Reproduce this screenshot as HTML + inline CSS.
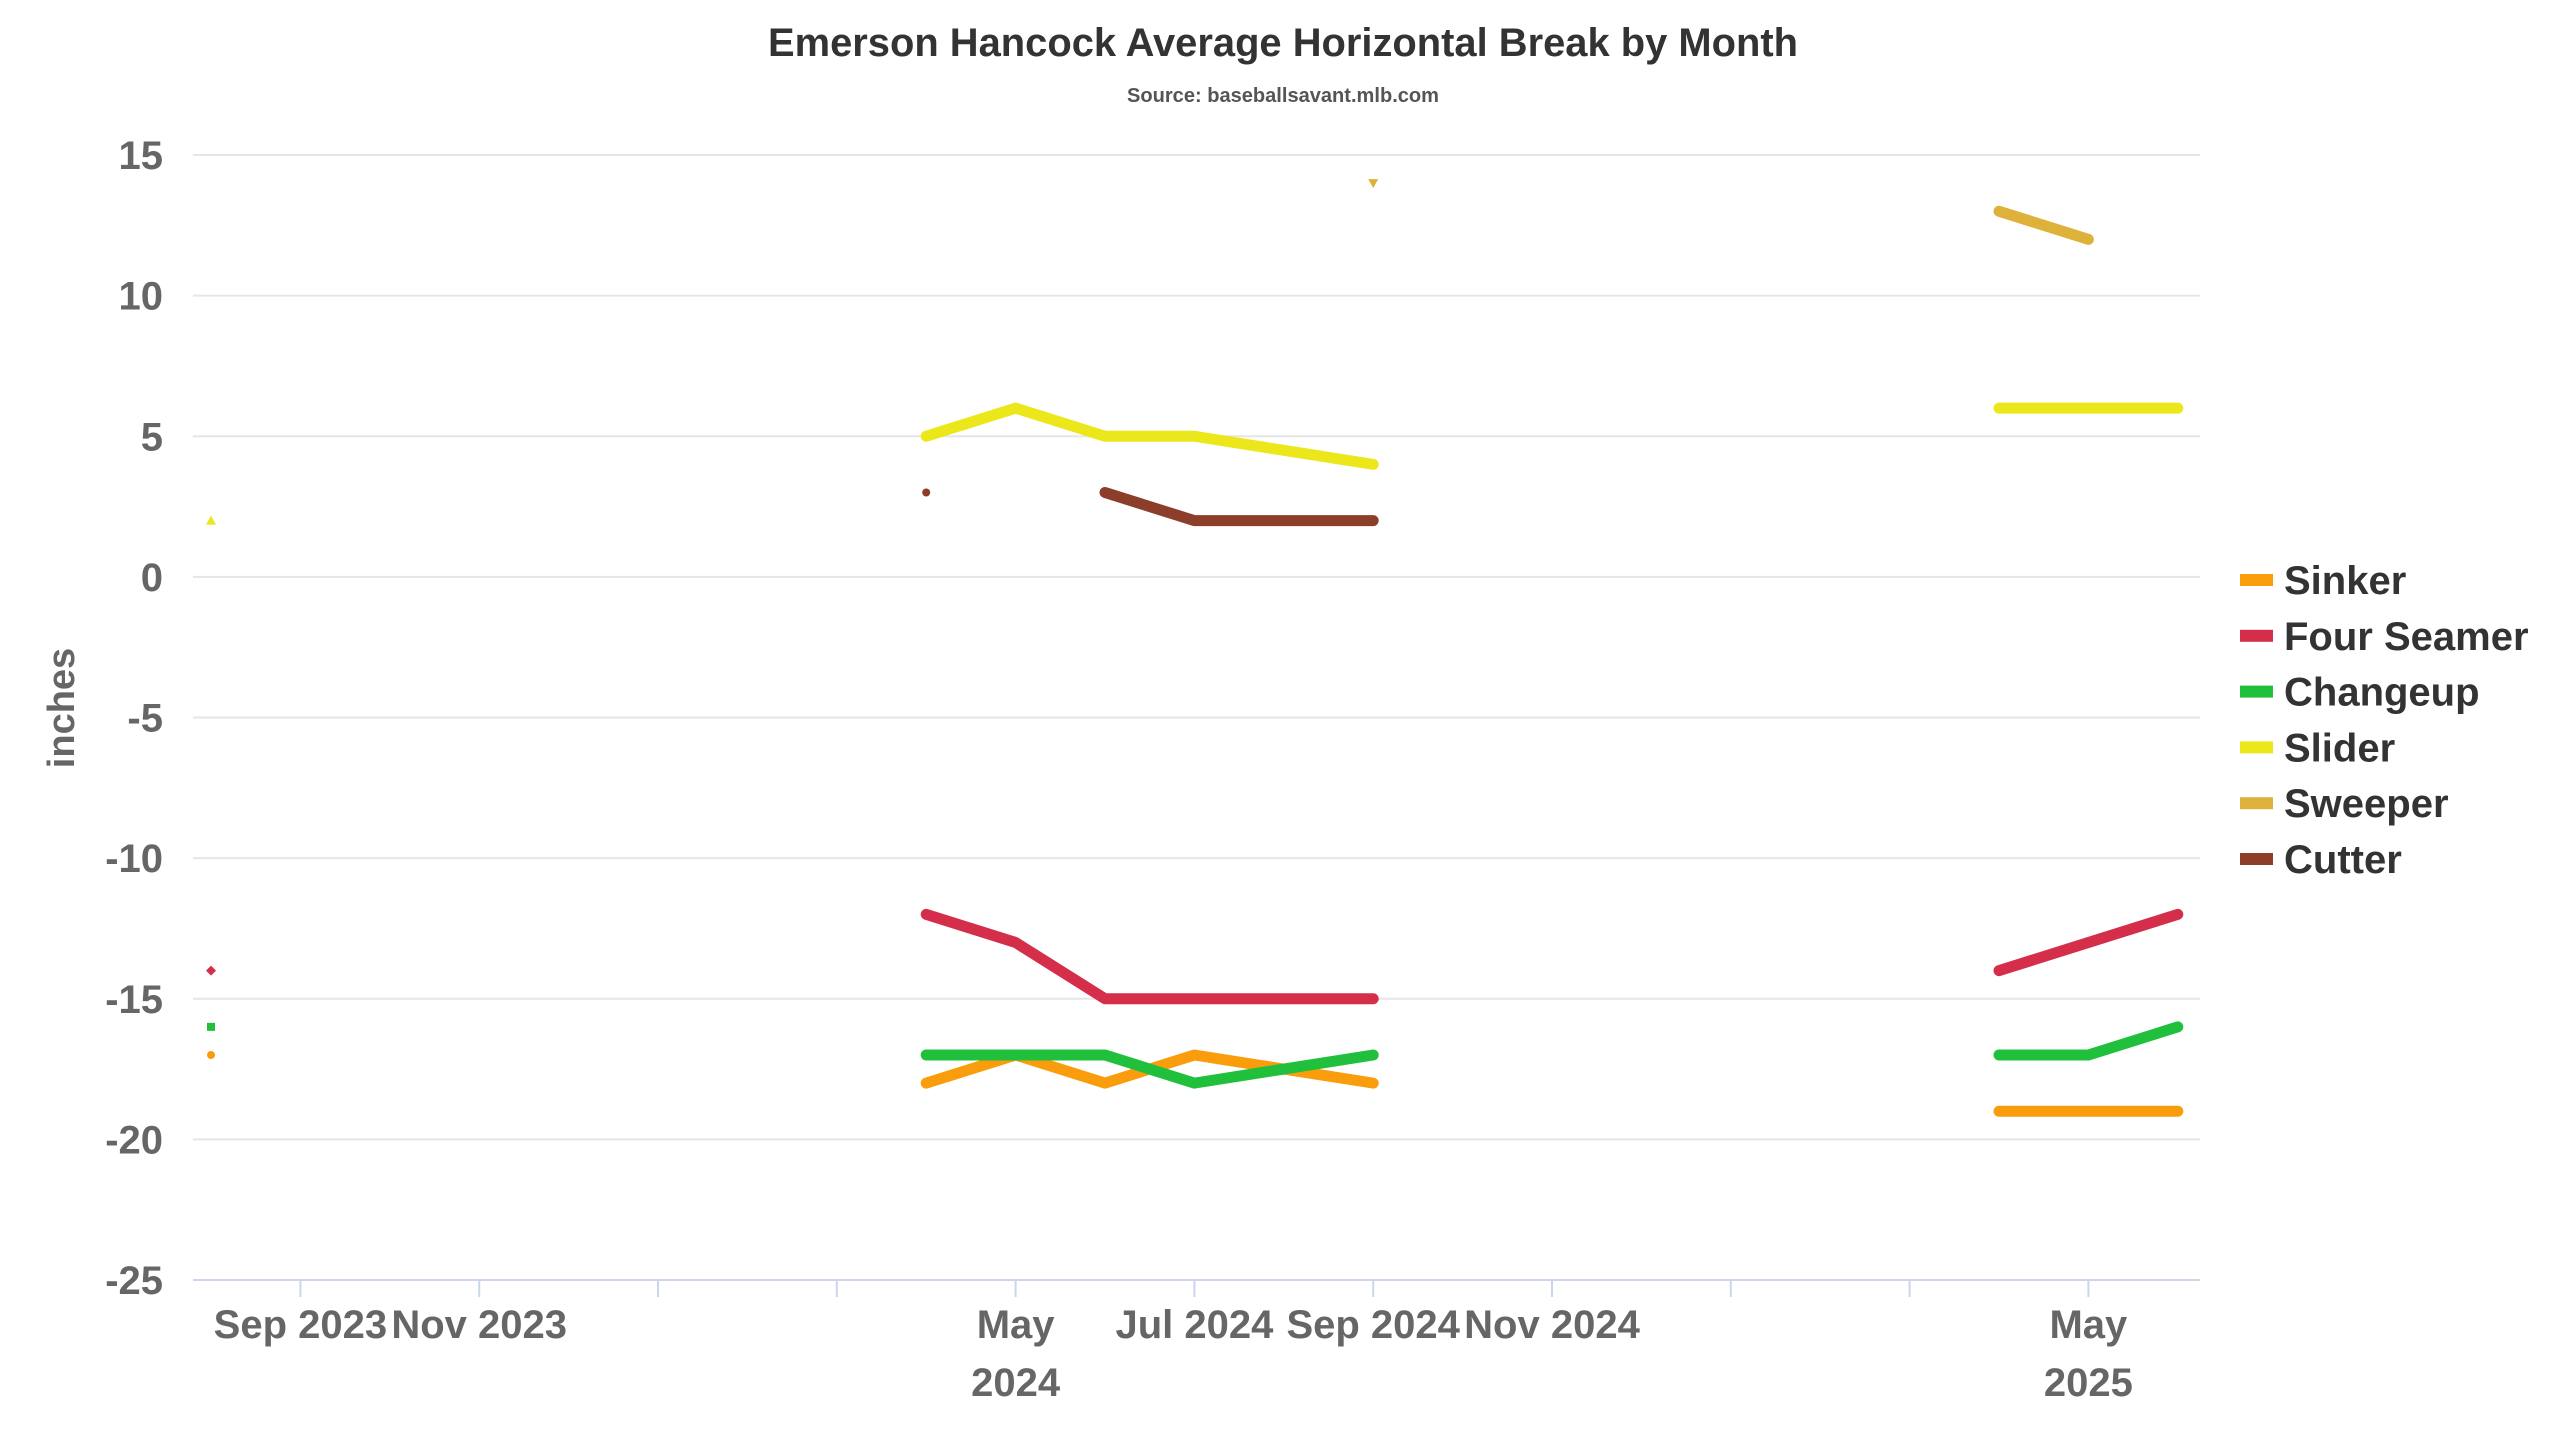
<!DOCTYPE html>
<html><head><meta charset="utf-8"><style>
html,body{margin:0;padding:0;background:#fff;}
svg{display:block;font-family:"Liberation Sans",sans-serif;font-weight:bold;}
</style></head><body>
<svg id="chart" width="2560" height="1440" viewBox="0 0 2560 1440">
<text x="1283" y="56" text-anchor="middle" font-size="40" fill="#333" textLength="1030" lengthAdjust="spacingAndGlyphs">Emerson Hancock Average Horizontal Break by Month</text>
<text x="1283" y="102" text-anchor="middle" font-size="20" fill="#555" textLength="312" lengthAdjust="spacingAndGlyphs">Source: baseballsavant.mlb.com</text>
<text transform="translate(74,708) rotate(-90)" text-anchor="middle" font-size="38" fill="#666">inches</text>
<g id="grid"></g><g id="xaxis"></g><g id="series"></g><g id="legend"></g>
</svg>
<script>
const yTicks=[15,10,5,0,-5,-10,-15,-20,-25];
const xTickMonths=[1,3,5,7,9,11,13,15,17,19,21];
const xTickLabels=[["Sep 2023"],["Nov 2023"],[""],[""],["May","2024"],["Jul 2024"],["Sep 2024"],["Nov 2024"],[""],[""],["May","2025"]];
const seriesNames=["Sinker","Four Seamer","Changeup","Slider","Sweeper","Cutter"];
const seriesColors=["#f99d0c","#d42e4b","#21c03c","#ece71b","#deb23a","#8c3e2a"];
// month index from Aug 2023 = 0
const months=[0,8,9,10,11,12,13,20,21,22];
const sinker=[-17,-18,-17,-18,-17,-17.5,-18,-19,-19,-19];
const fourSeamer=[-14,-12,-13,-15,-15,-15,-15,-14,-13,-12];
const changeup=[-16,-17,-17,-17,-18,-17.5,-17,-17,-17,-16];
const slider=[2,5,6,5,5,4.5,4,6,6,6];
const sweeper=[null,null,null,null,null,null,14,13,12,null];
const cutter=[null,3,null,3,2,2,2,null,null,null];
const allSeries=[sinker,fourSeamer,changeup,slider,sweeper,cutter];

const NS="http://www.w3.org/2000/svg";
const plotLeft=193,plotRight=2200,plotTop=155,plotBottom=1280;
const xScale=m=>211+m*89.4;
const yScale=v=>plotTop+(15-v)*(plotBottom-plotTop)/40;
function mk(tag,attrs,parent){const e=document.createElementNS(NS,tag);for(const k in attrs)e.setAttribute(k,attrs[k]);parent.appendChild(e);return e;}
const grid=document.getElementById('grid');
yTicks.forEach(v=>{
  if(v!==-25){const l=mk('line',{x1:plotLeft,x2:plotRight,y1:yScale(v),y2:yScale(v),stroke:'#e6e6e6','stroke-width':2},grid);
  
  }
  const t=mk('text',{x:163,y:yScale(v)+14,'text-anchor':'end','font-size':40,fill:'#666'},grid);
  
  
  t.textContent=v;
});
const xa=document.getElementById('xaxis');
const ax=mk('line',{x1:plotLeft,x2:plotRight,y1:plotBottom,y2:plotBottom,stroke:'#ccd6eb','stroke-width':2},xa);


xTickMonths.forEach((m,i)=>{
  const tk=mk('line',{x1:xScale(m),x2:xScale(m),y1:plotBottom,y2:plotBottom+17,stroke:'#ccd6eb','stroke-width':2},xa);
  
  
  xTickLabels[i].forEach((s,j)=>{
    if(!s)return;
    const t=mk('text',{x:xScale(m),y:1338+j*58,'text-anchor':'middle','font-size':40,fill:'#666'},xa);
    
    
    t.textContent=s;
  });
});
const sg=document.getElementById('series');
const shapes=['circle','diamond','square','triangle','triangle-down','circle'];
allSeries.forEach((arr,si)=>{
  const c=seriesColors[si];
  const segs=[];let cur=[];
  arr.forEach((v,i)=>{
    if(v===null||(cur.length&&months[i]-months[i-1]>1)){if(cur.length)segs.push(cur);cur=[];}
    if(v!==null)cur.push([xScale(months[i]),yScale(v)]);
  });
  if(cur.length)segs.push(cur);
  segs.forEach(s=>{
    if(s.length===1){
      const px=s[0][0],py=s[0][1];const sh=shapes[si];let e;
      if(sh==='circle')e=mk('circle',{cx:px,cy:py,r:4,fill:c},sg);
      else if(sh==='square')e=mk('rect',{x:px-4,y:py-4,width:8,height:8,fill:c},sg);
      else if(sh==='diamond')e=mk('polygon',{points:`${px},${py-5} ${px+5},${py} ${px},${py+5} ${px-5},${py}`,fill:c},sg);
      else if(sh==='triangle')e=mk('polygon',{points:`${px},${py-5} ${px+5},${py+4} ${px-5},${py+4}`,fill:c},sg);
      else e=mk('polygon',{points:`${px-5},${py-4} ${px+5},${py-4} ${px},${py+5}`,fill:c},sg);
      
      
    } else {
      const p=mk('polyline',{points:s.map(q=>q.join(',')).join(' '),fill:'none',stroke:c,'stroke-width':11,'stroke-linecap':'round','stroke-linejoin':'round'},sg);
      
      
    }
  });
});
const lg=document.getElementById('legend');
seriesNames.forEach((n,i)=>{
  const yy=580+i*55.8;
  const g=mk('g',{},lg);
  
  
  mk('rect',{x:2240,y:yy-6,width:33,height:12,fill:seriesColors[i]},g);
  const t=mk('text',{x:2284,y:yy+14,'font-size':40,fill:'#333'},g);
  t.textContent=n;
});
</script>
</body></html>
